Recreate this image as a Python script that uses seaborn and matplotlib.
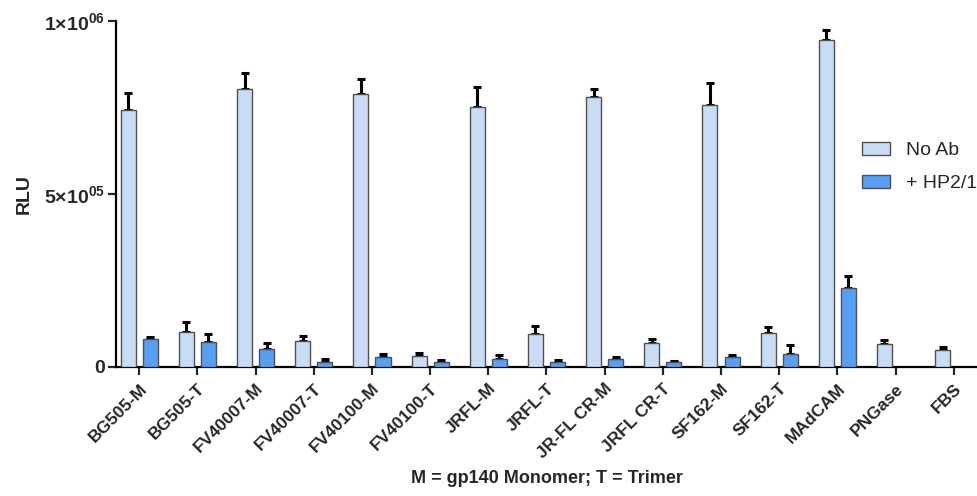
import numpy as np
import pandas as pd
import matplotlib
matplotlib.use("Agg")
import matplotlib.pyplot as plt
import seaborn as sns

# values (RLU)
samples = ['BG505-M', 'BG505-T', 'FV40007-M', 'FV40007-T', 'FV40100-M', 'FV40100-T',
           'JRFL-M', 'JRFL-T', 'JR-FL CR-M', 'JRFL CR-T', 'SF162-M', 'SF162-T',
           'MAdCAM', 'PNGase', 'FBS']
no_ab = [743000, 102000, 802000, 75000, 789000, 31000, 750000, 94500,
         779000, 70000, 757000, 97000, 944000, 67000, 48000]
no_ab_err = [48000, 29000, 47000, 15000, 42000, 9000, 59000, 23000,
             24000, 12000, 65000, 18000, 29000, 12000, 9000]
hp21 = [80000, 73000, 51000, 15000, 30000, 13500, 23000, 13500,
        23000, 13500, 28000, 38000, 229000, None, None]
hp21_err = [7000, 21000, 19000, 7000, 8000, 8000, 12000, 6000,
            6000, 5000, 6000, 26000, 35000, None, None]
groups = ['No Ab', '+ HP2/1']
colors = ['#C8DCF6', '#559FF4']

df = pd.concat([
    pd.DataFrame({'sample': samples, 'group': groups[0], 'rlu': no_ab, 'err': no_ab_err}),
    pd.DataFrame({'sample': samples, 'group': groups[1], 'rlu': hp21, 'err': hp21_err}),
]).dropna()

sns.set_style("ticks")
plt.rcParams['font.family'] = ['Liberation Sans', 'DejaVu Sans']
plt.rcParams['mathtext.fontset'] = 'custom'
plt.rcParams['mathtext.rm'] = 'Liberation Sans:bold'
plt.rcParams['mathtext.bf'] = 'Liberation Sans:bold'
plt.rcParams['mathtext.default'] = 'rm'

fig = plt.figure(figsize=(9.77, 4.96), dpi=100)
ax = fig.add_axes([0.1187, 0.2601, 0.8813, 0.6976])

sns.barplot(data=df, x='sample', y='rlu', hue='group', order=samples, hue_order=groups,
            palette=colors, saturation=1, width=0.76, gap=0.32, edgecolor='#505050',
            linewidth=1, errorbar=None, ax=ax, zorder=3)

# upper error bars only
for grp, cont in zip(groups, ax.containers):
    sub = df[df['group'] == grp].set_index('sample')
    for bar in cont:
        xc = bar.get_x() + bar.get_width() / 2
        name = samples[int(round(xc))]
        ax.errorbar(xc, sub.loc[name, 'rlu'], yerr=[[0], [sub.loc[name, 'err']]],
                    fmt='none', ecolor='black', elinewidth=2.2, capsize=3, capthick=2.2,
                    zorder=2)

ax.set_xlim(-0.4, 14.4)
ax.set_ylim(0, 1e6)
ax.set_yticks([0, 5e5, 1e6])
ax.set_yticklabels(['0', '5×10$^{05}$', '1×10$^{06}$'], fontsize=14, fontweight='bold')
ax.set_xticks(range(len(samples)))
ax.set_xticklabels(samples, rotation=45, ha='right', rotation_mode='anchor',
                   fontsize=12.5, fontweight='bold')
ax.tick_params(axis='y', length=6, width=1.6, pad=2)
ax.tick_params(axis='x', length=6, width=1.6, pad=4)
for s in ['left', 'bottom']:
    ax.spines[s].set_linewidth(1.6)
    ax.spines[s].set_color('black')
sns.despine(ax=ax)
ax.set_ylabel('RLU', fontsize=14, fontweight='bold', labelpad=8)
ax.set_xlabel('M = gp140 Monomer; T = Trimer', fontsize=13, fontweight='bold', labelpad=6)

ax.legend_.remove()
handles = [plt.Rectangle((0, 0), 1, 1, facecolor=c, edgecolor='#505050', linewidth=1)
           for c in colors]
fig.legend(handles, groups, loc='upper left', bbox_to_anchor=(862 / 977, 1 - 142 / 496),
           frameon=False, fontsize=14, handlelength=1.45, handleheight=0.65,
           handletextpad=0.8, labelspacing=0.8, borderpad=0, borderaxespad=0)

fig.savefig('out.png', dpi=100)
